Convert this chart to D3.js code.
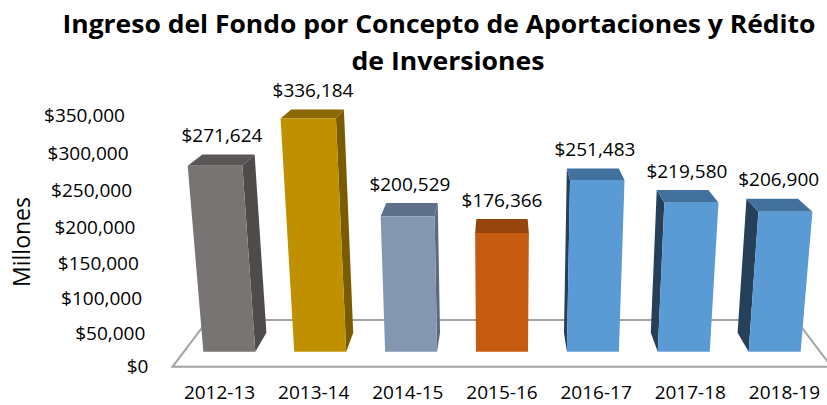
<!DOCTYPE html>
<html>
<head>
<meta charset="utf-8">
<script src="https://cdn.jsdelivr.net/npm/d3@7"></script>
<style>
  html, body { margin: 0; padding: 0; background: #fff; }
  svg { display: block; }
  text { font-family: "Open Sans", "Liberation Sans", sans-serif; fill: #000; }
</style>
</head>
<body>
<svg id="chart" width="827" height="405"></svg>
<script>
// ---- data ----
const categories = ["2012-13", "2013-14", "2014-15", "2015-16", "2016-17", "2017-18", "2018-19"];
const values = [271624, 336184, 200529, 176366, 251483, 219580, 206900];
const yTicks = [0, 50000, 100000, 150000, 200000, 250000, 300000, 350000];
const titleLines = ["Ingreso del Fondo por Concepto de Aportaciones y Rédito", "de Inversiones"];
const yTitle = "Millones";

// ---- palette ----
const frontColors = ["#787473", "#BF9000", "#8497B0", "#C55A11", "#5B9BD5", "#5B9BD5", "#5B9BD5"];
const topColors   = ["#5A5655", "#8C6900", "#5F708A", "#96440E", "#41719C", "#41719C", "#41719C"];
const sideColors  = ["#4F4B4A", "#7A5C00", "#5A6A82", "#7E380B", "#264059", "#264059", "#264059"];

// ---- 3D camera (world units: camera distance = 1) ----
const F = 1063, u0 = 502, v0 = 240;
const phi = 16.2 * Math.PI / 180, cphi = Math.cos(phi), sphi = Math.sin(phi);
const camH = 0.4245;
function proj(X, Y, Z) {
  const ry = Y - camH, rz = Z + 1;
  const yc = ry * cphi + rz * sphi;
  const zc = -ry * sphi + rz * cphi;
  return [u0 + F * X / zc, v0 - F * yc / zc];
}

const halfW = 0.3344, floorDepth = 0.1353;
const x = d3.scaleBand().domain(categories).range([-halfW, halfW])
  .paddingInner(0.428).paddingOuter(0.214);
const y = d3.scaleLinear().domain([0, 350000]).range([0, 0.2572]);
const bw = x.bandwidth();
const z1 = floorDepth / 2 - bw / 2, z2 = floorDepth / 2 + bw / 2;

const svg = d3.select("#chart");
const line = pts => "M" + pts.map(p => proj(...p).join(",")).join("L") + "Z";
const fmt = d3.format("$,");

// floor
svg.append("path")
  .attr("d", line([[-halfW, 0, 0], [halfW, 0, 0], [halfW, 0, floorDepth], [-halfW, 0, floorDepth]]))
  .attr("fill", "#fff").attr("stroke", "#A3A3A3").attr("stroke-width", 2);

// bars
const g = svg.append("g");
categories.forEach((c, i) => {
  const x0 = x(c), x1 = x0 + bw, h = y(values[i]);
  if (x1 < 0) {
    g.append("path").attr("d", line([[x1, 0, z1], [x1, 0, z2], [x1, h, z2], [x1, h, z1]]))
      .attr("fill", sideColors[i]);
  } else if (x0 > 0) {
    g.append("path").attr("d", line([[x0, 0, z1], [x0, 0, z2], [x0, h, z2], [x0, h, z1]]))
      .attr("fill", sideColors[i]);
  }
  g.append("path").attr("d", line([[x0, h, z1], [x1, h, z1], [x1, h, z2], [x0, h, z2]]))
    .attr("fill", topColors[i]);
  g.append("path").attr("d", line([[x0, 0, z1], [x1, 0, z1], [x1, h, z1], [x0, h, z1]]))
    .attr("fill", frontColors[i]);
});

// data labels
categories.forEach((c, i) => {
  const xc = x(c) + bw / 2, h = y(values[i]);
  const pTop = proj(xc, h, (z1 + z2) / 2);
  const pBack = proj(xc, h, z2);
  svg.append("text").attr("x", pTop[0]).attr("y", pBack[1] - 19).attr("dy", "0.35em")
    .attr("text-anchor", "middle").attr("font-size", 19).text(fmt(values[i]));
});

// value axis labels
yTicks.forEach(t => {
  const p = proj(-halfW, y(t), 0);
  svg.append("text").attr("x", p[0] - 24).attr("y", p[1]).attr("dy", "0.35em")
    .attr("text-anchor", "end").attr("font-size", 19).text(fmt(t));
});

// category labels
categories.forEach(c => {
  const p = proj(x(c) + bw / 2, 0, 0);
  svg.append("text").attr("x", p[0]).attr("y", p[1] + 26).attr("dy", "0.35em")
    .attr("text-anchor", "middle").attr("font-size", 19).text(c);
});

// y title
svg.append("text").attr("transform", "translate(22,242) rotate(-90)").attr("dy", "0.35em")
  .attr("text-anchor", "middle").attr("font-size", 23).text(yTitle);

// title
svg.append("text").attr("x", 439).attr("y", 33).attr("text-anchor", "middle")
  .attr("font-size", 25).attr("font-weight", "bold")
  .attr("textLength", 753).attr("lengthAdjust", "spacingAndGlyphs").text(titleLines[0]);
svg.append("text").attr("x", 448).attr("y", 70).attr("text-anchor", "middle")
  .attr("font-size", 25).attr("font-weight", "bold")
  .attr("textLength", 193).attr("lengthAdjust", "spacingAndGlyphs").text(titleLines[1]);
</script>
</body>
</html>
